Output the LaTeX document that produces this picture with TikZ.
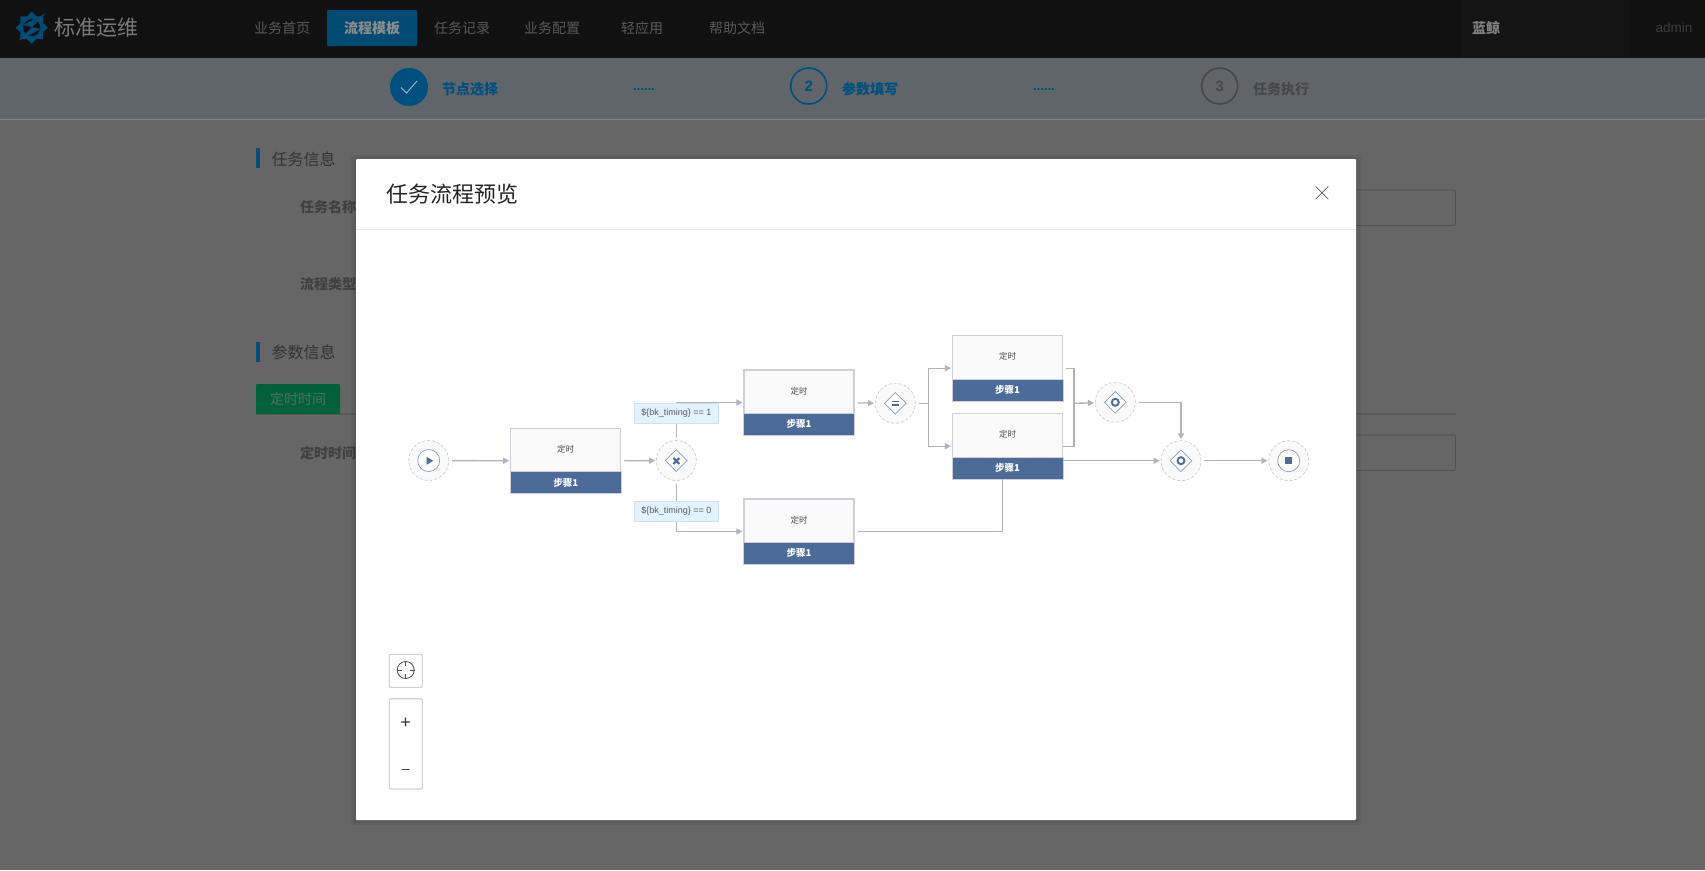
\documentclass[tikz,border=0pt]{standalone}
\usepackage{fontspec}
\setmainfont{Noto Sans CJK SC}
\newfontfamily\latinfont{Liberation Sans}
\usetikzlibrary{arrows.meta,shapes.geometric}

\definecolor{pagegray}{HTML}{666666}
\definecolor{stepgray}{HTML}{5F6568}
\definecolor{topbar}{HTML}{111111}
\definecolor{topband}{HTML}{141414}
\definecolor{navblue}{HTML}{004B73}
\definecolor{stepblue}{HTML}{00507F}
\definecolor{bargreen}{HTML}{00613A}
\definecolor{taskblue}{HTML}{4D6B99}
\definecolor{markblue}{HTML}{8A9EC0}
\definecolor{flowgray}{HTML}{B0B3BC}
\definecolor{boxgray}{HTML}{CDD0D6}
\definecolor{condfill}{HTML}{E1F3FE}
\definecolor{condline}{HTML}{CFE3EF}

\begin{document}
\begin{tikzpicture}[
  x=1pt, y=-1pt,
  txt/.style       = {inner sep=0pt, text=#1},
  nav/.style       = {txt=#1, font=\fontsize{14}{14}\selectfont},
  stage/.style     = {txt=#1, font=\fontsize{14}{14}\selectfont\bfseries},
  heading/.style   = {txt=black!80, font=\fontsize{16}{16}\selectfont},
  field/.style     = {txt=black!75, anchor=west, font=\fontsize{14}{14}\selectfont\bfseries},
  stagering/.style = {circle, draw=#1, line width=1.6pt, minimum size=36pt, inner sep=0pt,
                      text=#1, font=\latinfont\fontsize{15}{15}\selectfont\bfseries},
  inputbox/.style  = {draw=black!68, line width=.8pt, rounded corners=2pt},
  taskbox/.style   = {draw=boxgray, line width=1.1pt, fill=black!2, inner sep=0pt,
                      minimum width=110pt, minimum height=65pt},
  stepbar/.style   = {fill=taskblue, draw=boxgray, line width=.6pt, inner sep=0pt, anchor=south, text=white,
                      minimum width=110.6pt, minimum height=22pt, font=\fontsize{9.5}{10}\selectfont\bfseries},
  tasktxt/.style   = {txt=black!70, font=\fontsize{8.5}{9}\selectfont},
  gate/.style      = {circle, draw=black!22, densely dashed, line width=.6pt, fill=black!2,
                      minimum size=40pt, inner sep=0pt},
  gatemark/.style  = {diamond, draw=markblue, line width=.7pt, fill=white, minimum width=22pt,
                      minimum height=22pt, inner sep=0pt},
  ringmark/.style  = {circle, draw=markblue, line width=.7pt, fill=white, minimum size=22pt, inner sep=0pt},
  ringcore/.style  = {circle, draw=taskblue, line width=1.9pt, minimum size=7pt, inner sep=0pt},
  core/.style      = {fill=taskblue, draw=none},
  arrow/.style     = {flowgray, line width=1.35pt, shorten <=3pt, shorten >=1pt,
                      -{Triangle[length=6pt,width=6pt]}},
  plain/.style     = {flowgray, line width=1.35pt, shorten <=3pt},
  cond/.style      = {fill=condfill, draw=condline, line width=.7pt, inner sep=0pt, text=black!65,
                      minimum width=84pt, minimum height=20pt, font=\latinfont\fontsize{9}{9}\selectfont},
  tool/.style      = {draw=black!18, line width=1.1pt, fill=white, rounded corners=1pt},
]
  \useasboundingbox (0,0) rectangle (1705,870);

  % page behind the dialog
  \fill[pagegray] (0,0) rectangle (1705,870);
  \fill[stepgray] (0,58) rectangle (1705,119);
  \draw[black!50, line width=.7pt] (0,119) -- (1705,119);
  \fill[topbar] (0,0) rectangle (1705,58);
  \fill[topband] (1461,0) rectangle (1630,58);

  % logo
  \node[star, star points=8, star point ratio=1.3, fill=navblue, minimum size=32pt, inner sep=0pt] (logo) at (31.7,27.7) {};
  \node[circle, fill=topbar, minimum size=17pt, inner sep=0pt] (logocore) at (logo) {};
  \fill[navblue] (46,13) -- (23,25) -- (32,27) -- (18,41) -- (41,29) -- (32,27) -- cycle;
  \node[txt=black!52, font=\fontsize{21}{21}\selectfont] (brand) at (96,28) {标准运维};

  % top bar
  \fill[navblue, rounded corners=1pt] (327,10) rectangle (417,46);
  \node[nav=black!65] (navhome) at (282,28) {业务首页};
  \node[stage=black!45] (navflow) at (372,28) {流程模板};
  \node[nav=black!65] (navtask) at (462,28) {任务记录};
  \node[nav=black!65] (navconf) at (552,28) {业务配置};
  \node[nav=black!65] (navlite) at (642,28) {轻应用};
  \node[nav=black!65] (navhelp) at (737,28) {帮助文档};
  \node[stage=black!50] (bizname) at (1486,28) {蓝鲸};
  \node[txt=black!76, font=\latinfont\fontsize{13.5}{14}\selectfont] (user) at (1674,28) {admin};

  % stages
  \node[circle, fill=stepblue, minimum size=38pt, inner sep=0pt] (stageone) at (409,87) {};
  \draw[white!62!stepblue, line width=.9pt] (401,87.5) -- (406.5,93) -- (417,81);
  \node[stage=stepblue] (stageonetxt) at (470,89.5) {节点选择};
  \node[txt=stepblue, font=\latinfont\fontsize{13}{13}\selectfont\bfseries] (dotsone) at (644,90) {......};
  \node[stagering=stepblue] (stagetwo) at (808.7,86) {2};
  \node[stage=stepblue] (stagetwotxt) at (870,89.5) {参数填写};
  \node[txt=stepblue, font=\latinfont\fontsize{13}{13}\selectfont\bfseries] (dotstwo) at (1044,90) {......};
  \node[stagering=black!72] (stagethree) at (1219.7,86) {3};
  \node[stage=black!72] (stagethreetxt) at (1281,89.5) {任务执行};

  % form under the dialog
  \fill[stepblue] (256,148) rectangle (260,168);
  \node[heading, anchor=west] (infohead) at (271.5,159) {任务信息};
  \node[field] (namefield) at (300,207) {任务名称};
  \node[field] (typefield) at (300,284) {流程类型};
  \fill[stepblue] (256,342) rectangle (260,362);
  \node[heading, anchor=west] (paramhead) at (271.5,352.5) {参数信息};
  \fill[black!65] (256,413) rectangle (1456,415);
  \fill[bargreen, rounded corners=1pt] (256,384) rectangle (340,414);
  \node[txt=bargreen!45!white!60!black, font=\fontsize{14}{14}\selectfont] (timetab) at (298,399) {定时时间};
  \node[field] (timefield) at (300,453) {定时时间};
  \draw[inputbox] (1300,190) rectangle (1455.5,225.5);
  \draw[inputbox] (1300,435) rectangle (1455.5,470.5);

  % dialog
  \fill[black, opacity=.05] (351,155) rectangle (1361,825);
  \fill[black, opacity=.05] (353,157) rectangle (1359,823);
  \fill[white, rounded corners=1pt] (356,159) rectangle (1356,820);
  \draw[black!9, line width=.8pt] (356,229.5) -- (1356,229.5);
  \node[txt=black!85, anchor=west, font=\fontsize{22}{22}\selectfont] (title) at (386,194) {任务流程预览};
  \draw[black!75, line width=.6pt] (1315.7,186.5) -- (1328.3,199) (1328.3,186.5) -- (1315.7,199);

  % flow nodes
  \node[gate] (start) at (428.7,460.5) {};
  \node[taskbox] (taska) at (565.7,461) {};
  \node[stepbar] (stepa) at (taska.south) {步骤1};
  \node[tasktxt] (texta) at (565.7,449.5) {定时};
  \node[gate] (gwx) at (676.3,460.5) {};
  \node[taskbox] (taskb) at (799,402.5) {};
  \node[stepbar] (stepb) at (taskb.south) {步骤1};
  \node[tasktxt] (textb) at (799,391) {定时};
  \node[taskbox] (taskc) at (799,531.5) {};
  \node[stepbar] (stepc) at (taskc.south) {步骤1};
  \node[tasktxt] (textc) at (799,520) {定时};
  \node[gate] (gwp) at (895.3,403.3) {};
  \node[taskbox] (taskd) at (1007.5,368.2) {};
  \node[stepbar] (stepd) at (taskd.south) {步骤1};
  \node[tasktxt] (textd) at (1007.5,356.7) {定时};
  \node[taskbox] (taske) at (1007.5,446.2) {};
  \node[stepbar] (stepe) at (taske.south) {步骤1};
  \node[tasktxt] (texte) at (1007.5,434.7) {定时};
  \node[gate] (gwa) at (1115.3,402.3) {};
  \node[gate] (gwb) at (1181,460.7) {};
  \node[gate] (stop) at (1288.7,460.7) {};

  \coordinate (joinl) at (928.7,403.3);
  \coordinate (joinr) at (1074,403.3);

  % marks inside the round nodes
  \node[ringmark] (startmark) at (start) {};
  \fill[core] (426.5,456.8) -- (433.2,460.8) -- (426.5,464.8) -- cycle;
  \node[gatemark] (gwxmark) at (gwx) {};
  \draw[taskblue, line width=2.1pt] (673.3,458) -- (679.3,464) (679.3,458) -- (673.3,464);
  \node[gatemark] (gwpmark) at (gwp) {};
  \draw[taskblue, line width=1.5pt] (891.6,401.7) -- (899,401.7) (891.6,405) -- (899,405);
  \node[gatemark] (gwamark) at (gwa) {};
  \node[ringcore] (gwaring) at (gwa) {};
  \node[gatemark] (gwbmark) at (gwb) {};
  \node[ringcore] (gwbring) at (gwb) {};
  \node[ringmark] (stopmark) at (stop) {};
  \node[core, minimum size=7.5pt, inner sep=0pt] (stopcore) at (stop) {};

  % flows
  \draw[arrow] (start) -- (taska);
  \draw[arrow] (taska) -- (gwx);
  \draw[arrow] (gwx) |- node[cond, pos=.355] (condb) {\$\{bk\_timing\} == 1} (taskb);
  \draw[arrow] (gwx) |- node[cond, pos=.3] (condc) {\$\{bk\_timing\} == 0} (taskc);
  \draw[arrow] (taskb) -- (gwp);
  \draw[plain] (gwp) -- (joinl);
  \draw[arrow, shorten <=0pt] (joinl) |- (taskd);
  \draw[arrow, shorten <=0pt] (joinl) |- (taske);
  \draw[plain] (taskd) -| (joinr) |- (taske);
  \draw[arrow, shorten <=0pt] (joinr) -- (gwa);
  \draw[arrow] (gwa) -| (gwb);
  \draw[arrow, shorten <=0pt] (taske.east |- gwb) -- (gwb);
  \draw[plain] (taskc) -| ([xshift=-5pt]stepe.south);
  \draw[arrow] (gwb) -- (stop);

  % zoom tools
  \draw[tool] (389.3,654.3) rectangle (422.3,687.3);
  \node[circle, draw=black!70, line width=.8pt, minimum size=17pt, inner sep=0pt] (fittool) at (405.7,670) {};
  \draw[black!70, line width=.8pt] (fittool.north) -- ++(0,5) (fittool.south) -- ++(0,-5) (fittool.west) -- ++(5,0) (fittool.east) -- ++(-5,0);
  \draw[tool] (389.3,698.7) rectangle (422.3,789);
  \node[txt=black!80, font=\latinfont\fontsize{18}{18}\selectfont] (zoomin) at (405.7,723) {+};
  \node[txt=black!80, font=\latinfont\fontsize{14}{14}\selectfont] (zoomout) at (405.7,771.3) {–};
\end{tikzpicture}
\end{document}
